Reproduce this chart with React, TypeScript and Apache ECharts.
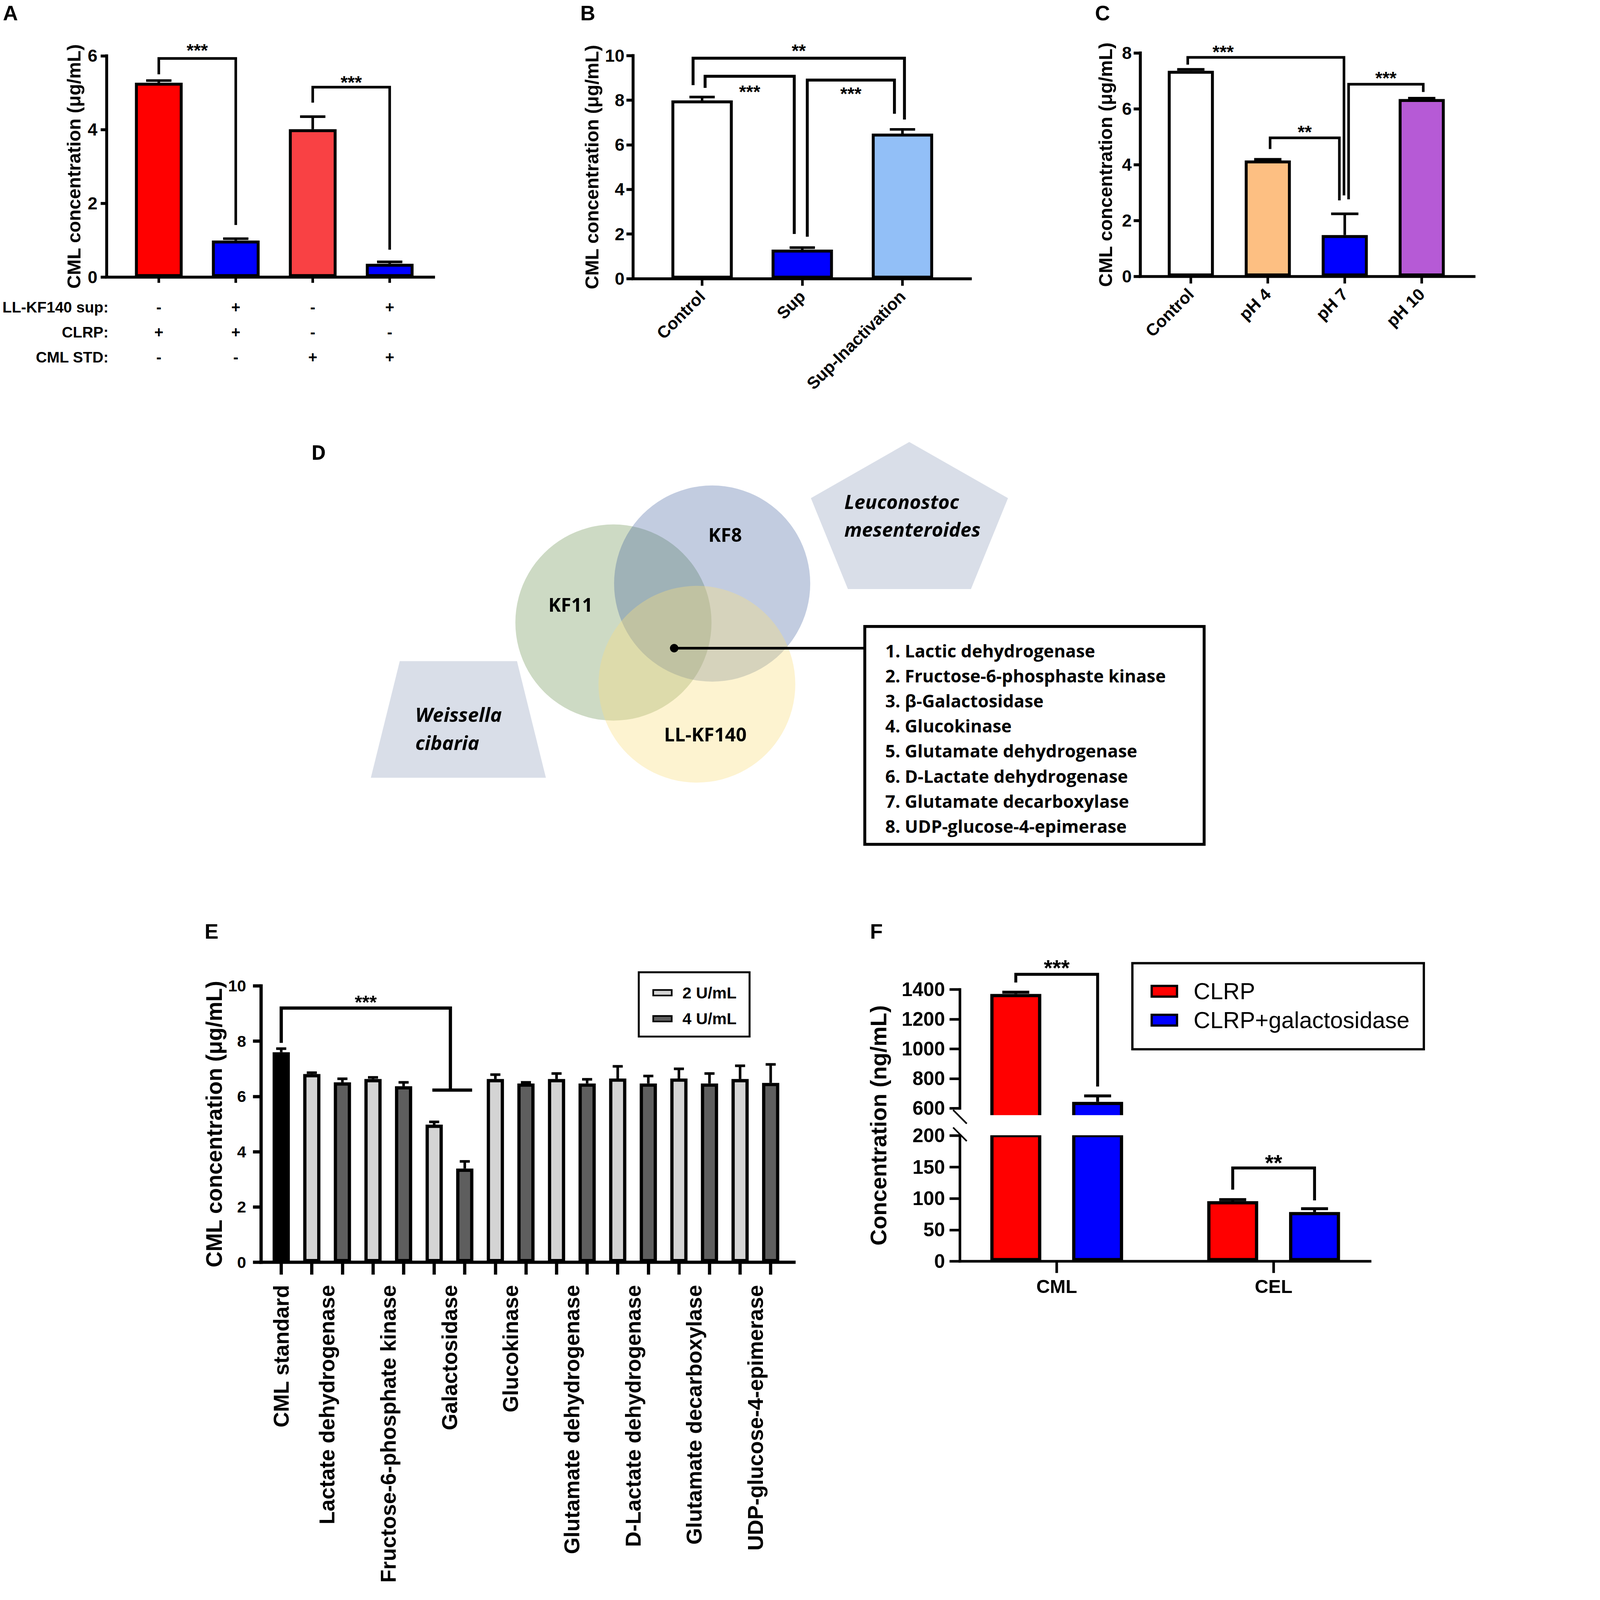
import React, { useEffect, useRef } from 'react';
import * as echarts from 'echarts';

const PAGE_W = 4550;
const PAGE_H = 4927;
const SANS = '"Liberation Sans", Arial, Helvetica, sans-serif';
const DIAG = '"Open Sans", "Noto Sans", sans-serif';
const BLACK = '#000000';

// ---------------- Panel A ----------------
const aCats = ['CLRP', 'CLRP + sup', 'CML STD', 'CML STD + sup'];
const aSupRow = ['-', '+', '-', '+'];
const aClrpRow = ['+', '+', '-', '-'];
const aStdRow = ['-', '-', '+', '+'];
const aRowNames = ['LL-KF140 sup:', 'CLRP:', 'CML STD:'];
const aMeans = [5.27, 0.99, 4.01, 0.36];
const aErrTop = [5.33, 1.04, 4.35, 0.41];
const aColors = ['#FF0000', '#0000FF', '#F94144', '#0000FF'];
const aBrackets = [
  { l: 0, r: 1, y: 5.93, lb: 5.5, rb: 1.41, text: '***', ty: 6.27 },
  { l: 2, r: 3, y: 5.15, lb: 4.73, rb: 0.74, text: '***', ty: 5.4 },
];

// ---------------- Panel B ----------------
const bCats = ['Control', 'Sup', 'Sup-Inactivation'];
const bMeans = [7.99, 1.3, 6.5];
const bErrTop = [8.14, 1.39, 6.69];
const bColors = ['#FFFFFF', '#0000FF', '#92BFF7'];
const bBrackets = [
  { l: 0, lo: -0.09, r: 2, ro: 0.02, y: 9.88, lb: 8.67, rb: 7.13, text: '**', ty: 10.41 },
  { l: 0, lo: 0.03, r: 1, ro: -0.08, y: 9.07, lb: 8.55, rb: 2.0, text: '***', ty: 8.57 },
  { l: 1, lo: 0.05, r: 2, ro: -0.08, y: 8.9, lb: 1.88, rb: 7.39, text: '***', ty: 8.49 },
];

// ---------------- Panel C ----------------
const cCats = ['Control', 'pH 4', 'pH 7', 'pH 10'];
const cMeans = [7.36, 4.15, 1.48, 6.35];
const cErrTop = [7.41, 4.19, 2.24, 6.38];
const cColors = ['#FFFFFF', '#FDBF82', '#0000FF', '#B65AD6'];
const cBrackets = [
  { l: 0, lo: -0.04, r: 2, ro: -0.01, y: 7.84, lb: 7.58, rb: 2.9, text: '***', ty: 8.19, tx: [0, 0.42] },
  { l: 1, lo: 0.03, r: 2, ro: -0.07, y: 4.96, lb: 4.56, rb: 2.72, text: '**', ty: 5.33 },
  { l: 2, lo: 0.05, r: 3, ro: 0.02, y: 6.88, lb: 2.76, rb: 6.6, text: '***', ty: 7.25 },
];

// ---------------- Panel D ----------------
const vennNames = ['KF11', 'KF8', 'LL-KF140'];
const speciesTop = ['Leuconostoc', 'mesenteroides'];
const speciesBottom = ['Weissella', 'cibaria'];
const sharedEnzymes = [
  '1. Lactic dehydrogenase',
  '2. Fructose-6-phosphaste kinase',
  '3. β-Galactosidase',
  '4. Glucokinase',
  '5. Glutamate dehydrogenase',
  '6. D-Lactate dehydrogenase',
  '7. Glutamate decarboxylase',
  '8. UDP-glucose-4-epimerase',
];

// ---------------- Panel E ----------------
const eStdLabel = 'CML standard';
const eEnzymes = [
  'Lactate dehydrogenase',
  'Fructose-6-phosphate kinase',
  'Galactosidase',
  'Glucokinase',
  'Glutamate dehydrogenase',
  'D-Lactate dehydrogenase',
  'Glutamate decarboxylase',
  'UDP-glucose-4-epimerase',
];
const eDoses = ['2 U/mL', '4 U/mL'];
const eStdMean = 7.6;
const eStdErrTop = 7.73;
const e2Means = [6.81, 6.63, 4.98, 6.63, 6.63, 6.65, 6.65, 6.63];
const e2ErrTop = [6.86, 6.69, 5.08, 6.79, 6.83, 7.09, 7.0, 7.11];
const e4Means = [6.51, 6.37, 3.39, 6.47, 6.47, 6.47, 6.47, 6.49];
const e4ErrTop = [6.64, 6.51, 3.65, 6.51, 6.62, 6.74, 6.83, 7.16];
const eBrackets = [
  { l: 0, r: 5, ro: 0.53, y: 9.2, lb: 7.94, rb: 6.23, text: '***', ty: 9.58, cross: { a: [5, -0.06], b: [6, 0.24], y: 6.23 } },
];

// ---------------- Panel F ----------------
const fCats = ['CML', 'CEL'];
const fSeriesNames = ['CLRP', 'CLRP+galactosidase'];
const fClrp = [1370, 95.7];
const fClrpErrTop = [1382, 98.1];
const fGal = [644, 78.4];
const fGalErrTop = [684, 83.7];
const fBreakLow = 200;
const fBreakHigh = 600;
const fTopMax = 1400;
const fTopBarMin = 541;
const fTopBrackets = [
  { l: 0, lo: -0.1886, r: 0, ro: 0.1886, y: 1502, lb: 1447, rb: 747, text: '***', ty: 1579 },
];
const fBottomBrackets = [
  { l: 1, lo: -0.1886, r: 1, ro: 0.1886, y: 148.5, lb: 114, rb: 97, text: '**', ty: 165 },
];

// ---------------- helpers ----------------
function bracketRenderer(list: any[], lw: number, fs: number) {
  return (params: any, api: any) => {
    const b = list[params.dataIndex];
    const band = api.size([1, 0])[0];
    const X = (i: number, o: number) => api.coord([i, 0])[0] + (o || 0) * band;
    const Y = (v: number) => api.coord([0, v])[1];
    const xl = X(b.l, b.lo || 0);
    const xr = X(b.r, b.ro || 0);
    const yt = Y(b.y);
    const children: any[] = [
      {
        type: 'polyline',
        shape: { points: [[xl, Y(b.lb)], [xl, yt], [xr, yt], [xr, Y(b.rb)]] },
        style: { stroke: BLACK, lineWidth: lw, fill: 'none', lineJoin: 'miter' },
      },
    ];
    if (b.cross) {
      const cy = Y(b.cross.y);
      children.push({
        type: 'line',
        shape: { x1: X(b.cross.a[0], b.cross.a[1]), y1: cy, x2: X(b.cross.b[0], b.cross.b[1]), y2: cy },
        style: { stroke: BLACK, lineWidth: lw },
      });
    }
    const tx = b.tx ? X(b.tx[0], b.tx[1]) : (xl + xr) / 2;
    children.push({
      type: 'text',
      style: {
        text: b.text,
        x: tx,
        y: Y(b.ty) + fs * 0.24,
        textAlign: 'center',
        textVerticalAlign: 'middle',
        fontSize: fs,
        fontWeight: 'bold',
        fontFamily: SANS,
        fill: BLACK,
      },
    });
    return { type: 'group', children };
  };
}

function errRenderer(cap: number, lw: number, offsetPx: number) {
  return (params: any, api: any) => {
    const i = api.value(0);
    const p0 = api.coord([i, api.value(1)]);
    const p1 = api.coord([i, api.value(2)]);
    const x = p0[0] + offsetPx;
    return {
      type: 'group',
      children: [
        { type: 'line', shape: { x1: x, y1: p0[1], x2: x, y2: p1[1] }, style: { stroke: BLACK, lineWidth: lw } },
        { type: 'line', shape: { x1: x - cap / 2, y1: p1[1], x2: x + cap / 2, y2: p1[1] }, style: { stroke: BLACK, lineWidth: lw } },
      ],
    };
  };
}

const axisLine = (w: number) => ({ show: true, onZero: false, lineStyle: { color: BLACK, width: w, cap: 'square' } });

function lineOnlyX(gridIndex: number, w: number) {
  return {
    type: 'value', gridIndex, min: 0, max: 1,
    axisLine: axisLine(w), axisTick: { show: false }, axisLabel: { show: false }, splitLine: { show: false },
  };
}
function hiddenX(gridIndex: number) {
  return { type: 'value', gridIndex, min: 0, max: 1, show: false };
}
function hiddenY(gridIndex: number, min: number, max: number) {
  return { type: 'value', gridIndex, min, max, show: false };
}
function shownY(gridIndex: number, min: number, max: number, interval: number, w: number, tickLen: number,
  labelSize: number, margin: number, name?: string, nameSize?: number, nameGap?: number) {
  return {
    type: 'value', gridIndex, min, max, interval,
    axisLine: axisLine(w),
    axisTick: { show: true, inside: false, length: tickLen, lineStyle: { color: BLACK, width: w } },
    axisLabel: {
      show: true, margin, fontSize: labelSize, fontWeight: 'bold', fontFamily: SANS, color: BLACK,
      formatter: (v: number) => String(v),
    },
    splitLine: { show: false },
    name: name || '',
    nameLocation: 'middle',
    nameGap: nameGap || 0,
    nameTextStyle: { fontSize: nameSize || 50, fontWeight: 'bold', fontFamily: SANS, color: BLACK },
  };
}
function catX(gridIndex: number, data: string[], tickLen: number, tickW: number, label: any) {
  return {
    type: 'category', gridIndex, data, position: 'bottom',
    axisLine: { show: false },
    axisTick: { show: true, alignWithLabel: true, interval: 0, length: tickLen, lineStyle: { color: BLACK, width: tickW } },
    axisLabel: Object.assign({ interval: 0, fontWeight: 'bold', fontFamily: SANS, color: BLACK }, label),
    splitLine: { show: false },
  };
}
function barSeries(name: string, xi: number, yi: number, values: any[], colors: string[] | string, width: number, bw: number, extra?: any) {
  return Object.assign({
    type: 'bar', name, xAxisIndex: xi, yAxisIndex: yi, barWidth: width, z: 3,
    data: values.map((v, i) => ({ value: v, itemStyle: { color: Array.isArray(colors) ? colors[i] : colors } })),
    itemStyle: { borderColor: BLACK, borderWidth: bw },
  }, extra || {});
}

function buildOption() {
  const grid = [
    { left: 328, top: 172, width: 1007, height: 681 },      // 0 A axis
    { left: 370.5, top: 172, width: 948, height: 681 },     // 1 A bars
    { left: 1949, top: 171, width: 1039, height: 687 },     // 2 B axis
    { left: 2007.75, top: 171, width: 925.5, height: 687 }, // 3 B bars
    { left: 3511, top: 163, width: 1028, height: 688 },     // 4 C axis
    { left: 3548.5, top: 163, width: 948, height: 688 },    // 5 C bars
    { left: 804, top: 3036, width: 1641, height: 851 },     // 6 E axis
    { left: 818.9, top: 3036, width: 1601.4, height: 851 }, // 7 E bars
    { left: 2956, top: 3047, width: 1263, height: 366 },    // 8 F top axis
    { left: 2956, top: 3497, width: 1263, height: 387 },    // 9 F bottom axis
    { left: 2920, top: 3047, width: 1336, height: 393 },    // 10 F top bars
    { left: 2920, top: 3497, width: 1336, height: 387 },    // 11 F bottom bars
    { left: 2956, top: 3047, width: 10, height: 837 },      // 12 F title
  ];

  const eCats = [eStdLabel];
  eEnzymes.forEach((n) => { eCats.push(n + ' ' + eDoses[0]); eCats.push(n + ' ' + eDoses[1]); });
  const eLabelAt = (v: number) => {
    const k = Math.round(v * 2);
    if (k === 0) return eStdLabel;
    if (k >= 3 && (k - 3) % 4 === 0) {
      const j = (k - 3) / 4;
      return j < eEnzymes.length ? eEnzymes[j] : '';
    }
    return '';
  };

  const xAxis = [
    lineOnlyX(0, 9),
    catX(1, aCats, 18, 8, {
      margin: 54, lineHeight: 77, fontSize: 48,
      formatter: (_v: string, i: number) => [aSupRow[i], aClrpRow[i], aStdRow[i]].join('\n'),
    }),
    lineOnlyX(2, 9),
    catX(3, bCats, 22, 8, { margin: 46, fontSize: 52, rotate: 45 }),
    lineOnlyX(4, 9),
    catX(5, cCats, 22, 8, { margin: 46, fontSize: 52, rotate: 45 }),
    lineOnlyX(6, 10),
    catX(7, eCats, 38, 10, { show: false }),
    {
      type: 'value', gridIndex: 7, position: 'bottom', min: -0.5, max: eCats.length - 0.5, interval: 0.5,
      axisLine: { show: false }, axisTick: { show: false }, splitLine: { show: false },
      axisLabel: { rotate: 90, margin: 70, fontSize: 66, fontWeight: 'bold', fontFamily: SANS, color: BLACK, formatter: eLabelAt },
    },
    hiddenX(8),
    lineOnlyX(9, 8),
    { type: 'category', gridIndex: 10, data: fCats, show: false },
    catX(11, fCats, 36, 8, { margin: 48, fontSize: 58 }),
    hiddenX(12),
  ];

  const yAxis = [
    shownY(0, 0, 6, 2, 9, 18, 54, 28, 'CML concentration (μg/mL)', 58, 72),
    hiddenY(1, 0, 6),
    shownY(2, 0, 10, 2, 9, 20, 54, 26, 'CML concentration (μg/mL)', 58, 98),
    hiddenY(3, 0, 10),
    shownY(4, 0, 8, 2, 9, 20, 54, 26, 'CML concentration (μg/mL)', 58, 78),
    hiddenY(5, 0, 8),
    shownY(6, 0, 10, 2, 10, 25, 50, 46, 'CML concentration (μg/mL)', 68, 110),
    hiddenY(7, 0, 10),
    shownY(8, fBreakHigh, fTopMax, 200, 8, 32, 60, 46),
    shownY(9, 0, fBreakLow, 50, 8, 32, 60, 46),
    hiddenY(10, fTopBarMin, fTopMax),
    hiddenY(11, 0, fBreakLow),
    {
      type: 'value', gridIndex: 12, min: 0, max: 1,
      axisLine: { show: false }, axisTick: { show: false }, axisLabel: { show: false }, splitLine: { show: false },
      name: 'Concentration (ng/mL)', nameLocation: 'middle', nameGap: 216,
      nameTextStyle: { fontSize: 69, fontWeight: 'bold', fontFamily: SANS, color: BLACK },
    },
  ];

  const series: any[] = [];
  // A
  series.push(barSeries('A', 1, 1, aMeans, aColors, 147, 9));
  series.push({ type: 'custom', xAxisIndex: 1, yAxisIndex: 1, z: 2, renderItem: errRenderer(78, 8, 0), data: aMeans.map((v, i) => [i, v, aErrTop[i]]) });
  series.push({ type: 'custom', xAxisIndex: 1, yAxisIndex: 1, z: 4, renderItem: bracketRenderer(aBrackets, 8, 56), data: aBrackets.map((b) => [b.l, b.y]) });
  // B
  series.push(barSeries('B', 3, 3, bMeans, bColors, 189, 9));
  series.push({ type: 'custom', xAxisIndex: 3, yAxisIndex: 3, z: 2, renderItem: errRenderer(78, 8, 0), data: bMeans.map((v, i) => [i, v, bErrTop[i]]) });
  series.push({ type: 'custom', xAxisIndex: 3, yAxisIndex: 3, z: 4, renderItem: bracketRenderer(bBrackets, 9, 56), data: bBrackets.map((b) => [b.l, b.y]) });
  // C
  series.push(barSeries('C', 5, 5, cMeans, cColors, 142, 9));
  series.push({ type: 'custom', xAxisIndex: 5, yAxisIndex: 5, z: 2, renderItem: errRenderer(84, 8, 0), data: cMeans.map((v, i) => [i, v, cErrTop[i]]) });
  series.push({ type: 'custom', xAxisIndex: 5, yAxisIndex: 5, z: 4, renderItem: bracketRenderer(cBrackets, 8, 56), data: cBrackets.map((b) => [b.l, b.y]) });
  // E
  const eStdData = eCats.map((_, i) => (i === 0 ? eStdMean : '-'));
  const e2Data = eCats.map((_, i) => (i % 2 === 1 ? e2Means[(i - 1) / 2] : '-'));
  const e4Data = eCats.map((_, i) => (i >= 2 && i % 2 === 0 ? e4Means[(i - 2) / 2] : '-'));
  series.push(barSeries(eStdLabel, 7, 7, eStdData, '#000000', 53, 10, { barGap: '-100%' }));
  series.push(barSeries(eDoses[0], 7, 7, e2Data, '#D4D4D4', 53, 10, { barGap: '-100%', itemStyle: { color: '#D4D4D4', borderColor: BLACK, borderWidth: 10 } }));
  series.push(barSeries(eDoses[1], 7, 7, e4Data, '#5E5E5E', 53, 10, { barGap: '-100%', itemStyle: { color: '#5E5E5E', borderColor: BLACK, borderWidth: 10 } }));
  const eErrData: any[] = [[0, eStdMean, eStdErrTop]];
  e2Means.forEach((v, k) => eErrData.push([1 + 2 * k, v, e2ErrTop[k]]));
  e4Means.forEach((v, k) => eErrData.push([2 + 2 * k, v, e4ErrTop[k]]));
  series.push({ type: 'custom', xAxisIndex: 7, yAxisIndex: 7, z: 2, renderItem: errRenderer(31, 8, 0), data: eErrData });
  series.push({ type: 'custom', xAxisIndex: 7, yAxisIndex: 7, z: 4, renderItem: bracketRenderer(eBrackets, 10, 58), data: eBrackets.map((b) => [b.l, b.y]) });
  // F
  const F_BAR_W = 157;
  const F_GAP = 0.605;
  const fOff = (F_BAR_W * (1 + F_GAP)) / 2;
  const fStyle = (c: string) => ({ color: c, borderColor: BLACK, borderWidth: 10 });
  const fTop = (arr: number[]) => arr.map((v) => (v > fTopBarMin ? v : '-'));
  series.push({ type: 'bar', name: fSeriesNames[0], xAxisIndex: 11, yAxisIndex: 10, barWidth: F_BAR_W, barGap: '60.5%', z: 3, data: fTop(fClrp), itemStyle: fStyle('#FF0000') });
  series.push({ type: 'bar', name: fSeriesNames[1], xAxisIndex: 11, yAxisIndex: 10, barWidth: F_BAR_W, barGap: '60.5%', z: 3, data: fTop(fGal), itemStyle: fStyle('#0000FF') });
  series.push({ type: 'bar', name: fSeriesNames[0], xAxisIndex: 12, yAxisIndex: 11, barWidth: F_BAR_W, barGap: '60.5%', z: 3, data: fClrp, itemStyle: fStyle('#FF0000') });
  series.push({ type: 'bar', name: fSeriesNames[1], xAxisIndex: 12, yAxisIndex: 11, barWidth: F_BAR_W, barGap: '60.5%', z: 3, data: fGal, itemStyle: fStyle('#0000FF') });
  const fErr = (m: number[], e: number[]) => m.map((v, i) => [i, v, e[i]]);
  series.push({ type: 'custom', xAxisIndex: 11, yAxisIndex: 10, z: 2, renderItem: errRenderer(83, 9, -fOff), data: fErr(fClrp, fClrpErrTop).filter((d) => d[1] > fTopBarMin) });
  series.push({ type: 'custom', xAxisIndex: 11, yAxisIndex: 10, z: 2, renderItem: errRenderer(83, 9, fOff), data: fErr(fGal, fGalErrTop).filter((d) => d[1] > fTopBarMin) });
  series.push({ type: 'custom', xAxisIndex: 12, yAxisIndex: 11, z: 2, renderItem: errRenderer(83, 9, -fOff), data: fErr(fClrp, fClrpErrTop).filter((d) => d[2] <= fBreakLow) });
  series.push({ type: 'custom', xAxisIndex: 12, yAxisIndex: 11, z: 2, renderItem: errRenderer(83, 9, fOff), data: fErr(fGal, fGalErrTop).filter((d) => d[2] <= fBreakLow) });
  series.push({ type: 'custom', xAxisIndex: 11, yAxisIndex: 10, z: 4, renderItem: bracketRenderer(fTopBrackets, 9, 68), data: fTopBrackets.map((b) => [b.l, b.y]) });
  series.push({ type: 'custom', xAxisIndex: 12, yAxisIndex: 11, z: 4, renderItem: bracketRenderer(fBottomBrackets, 9, 68), data: fBottomBrackets.map((b) => [b.l, b.y]) });

  const legend = [
    {
      data: eDoses, orient: 'vertical', left: 1967, top: 2994, padding: [38, 40, 30, 42], itemGap: 30,
      itemWidth: 57, itemHeight: 17, icon: 'rect', selectedMode: false,
      borderColor: BLACK, borderWidth: 6,
      itemStyle: { borderColor: BLACK, borderWidth: 5 },
      textStyle: { fontSize: 50, fontWeight: 'bold', fontFamily: SANS, color: BLACK, lineHeight: 50, padding: [0, 0, 0, 28] },
    },
    {
      data: fSeriesNames, orient: 'vertical', left: 3487, top: 2966, padding: [51, 44, 54, 56], itemGap: 18,
      itemWidth: 78, itemHeight: 33, icon: 'rect', selectedMode: false,
      borderColor: BLACK, borderWidth: 7,
      itemStyle: { borderColor: BLACK, borderWidth: 7 },
      textStyle: { fontSize: 71, fontWeight: 'normal', fontFamily: SANS, color: BLACK, lineHeight: 64, padding: [0, 0, 0, 46] },
    },
  ];

  const txt = (text: string, x: number, y: number, fontSize: number, opts?: any) => ({
    type: 'text', x, y, z: 50,
    style: Object.assign({
      text, fontSize, fontWeight: 'bold', fontFamily: SANS, fill: BLACK,
      textAlign: 'left', textVerticalAlign: 'middle',
    }, opts || {}),
  });

  const graphic: any[] = [];
  // panel letters
  graphic.push(txt('A', 9, 40, 64));
  graphic.push(txt('B', 1787, 40, 64));
  graphic.push(txt('C', 3372, 40, 64));
  graphic.push(txt('D', 958, 1392, 62, { fontFamily: DIAG }));
  graphic.push(txt('E', 630, 2868, 64));
  graphic.push(txt('F', 2679, 2868, 64));
  // panel A row names
  aRowNames.forEach((n, i) => graphic.push(txt(n, 334, 853 + 54 + 77 * (i + 0.5), 47, { textAlign: 'right' })));

  // panel D
  const shapeFill = '#D9DEE8';
  graphic.push({ type: 'polygon', z: 10, shape: { points: [[2800, 1361], [3104, 1534], [2990, 1814], [2611, 1814], [2497, 1534]] }, style: { fill: shapeFill } });
  graphic.push({ type: 'polygon', z: 10, shape: { points: [[1231, 2036], [1592, 2036], [1681, 2395], [1142, 2395]] }, style: { fill: shapeFill } });
  const circles = [
    { cx: 1889, cy: 1917, r: 302, fill: 'rgba(112,149,86,0.35)', lx: 1757, ly: 1861 },
    { cx: 2193, cy: 1797, r: 302, fill: 'rgba(52,85,152,0.30)', lx: 2233, ly: 1645 },
    { cx: 2146, cy: 2107, r: 303, fill: 'rgba(250,223,128,0.37)', lx: 2172, ly: 2260 },
  ];
  circles.forEach((c) => graphic.push({ type: 'circle', z: 11, shape: { cx: c.cx, cy: c.cy, r: c.r }, style: { fill: c.fill } }));
  circles.forEach((c, i) => graphic.push(txt(vennNames[i], c.lx, c.ly, 58, { fontFamily: DIAG, textAlign: 'center' })));
  speciesTop.forEach((s, i) => graphic.push(txt(s, 2600, 1544 + 86 * i, 60, { fontFamily: DIAG, fontStyle: 'italic' })));
  speciesBottom.forEach((s, i) => graphic.push(txt(s, 1279, 2200 + 87 * i, 60, { fontFamily: DIAG, fontStyle: 'italic' })));
  graphic.push({ type: 'line', z: 20, shape: { x1: 2076, y1: 1996, x2: 2663, y2: 1996 }, style: { stroke: BLACK, lineWidth: 8 } });
  graphic.push({ type: 'circle', z: 21, shape: { cx: 2076, cy: 1996, r: 13 }, style: { fill: BLACK } });
  graphic.push({ type: 'rect', z: 20, shape: { x: 2663, y: 1929, width: 1045, height: 671 }, style: { fill: 'none', stroke: BLACK, lineWidth: 9 } });
  sharedEnzymes.forEach((s, i) => graphic.push(txt(s, 2726, 2003 + 77.2 * i, 54, { fontFamily: DIAG })));

  // panel F axis break
  graphic.push({ type: 'rect', z: 40, shape: { x: 2985, y: 3434, width: 1230, height: 62 }, style: { fill: '#FFFFFF' } });
  graphic.push({ type: 'line', z: 41, shape: { x1: 2935, y1: 3418, x2: 2977, y2: 3460 }, style: { stroke: BLACK, lineWidth: 5 } });
  graphic.push({ type: 'line', z: 41, shape: { x1: 2935, y1: 3472, x2: 2977, y2: 3514 }, style: { stroke: BLACK, lineWidth: 5 } });

  return {
    animation: false,
    backgroundColor: '#FFFFFF',
    grid,
    xAxis,
    yAxis,
    series,
    legend,
    graphic,
  };
}

export default function App() {
  const ref = useRef<HTMLDivElement>(null);
  useEffect(() => {
    const el = ref.current;
    if (!el) return;
    document.body.style.margin = '0';
    document.body.style.overflow = 'hidden';
    const vw = window.innerWidth || PAGE_W;
    const vh = window.innerHeight || PAGE_H;
    const s = Math.min(1, vw / PAGE_W, vh / PAGE_H);
    el.style.transform = s < 0.999 ? `scale(${s})` : '';
    el.style.transformOrigin = '0 0';
    const chart = echarts.init(el, null, { renderer: 'svg', width: PAGE_W, height: PAGE_H });
    chart.setOption(buildOption() as any);
    return () => chart.dispose();
  }, []);
  return (
    <div
      ref={ref}
      style={{ position: 'absolute', left: 0, top: 0, width: PAGE_W, height: PAGE_H, background: '#FFFFFF' }}
    />
  );
}
